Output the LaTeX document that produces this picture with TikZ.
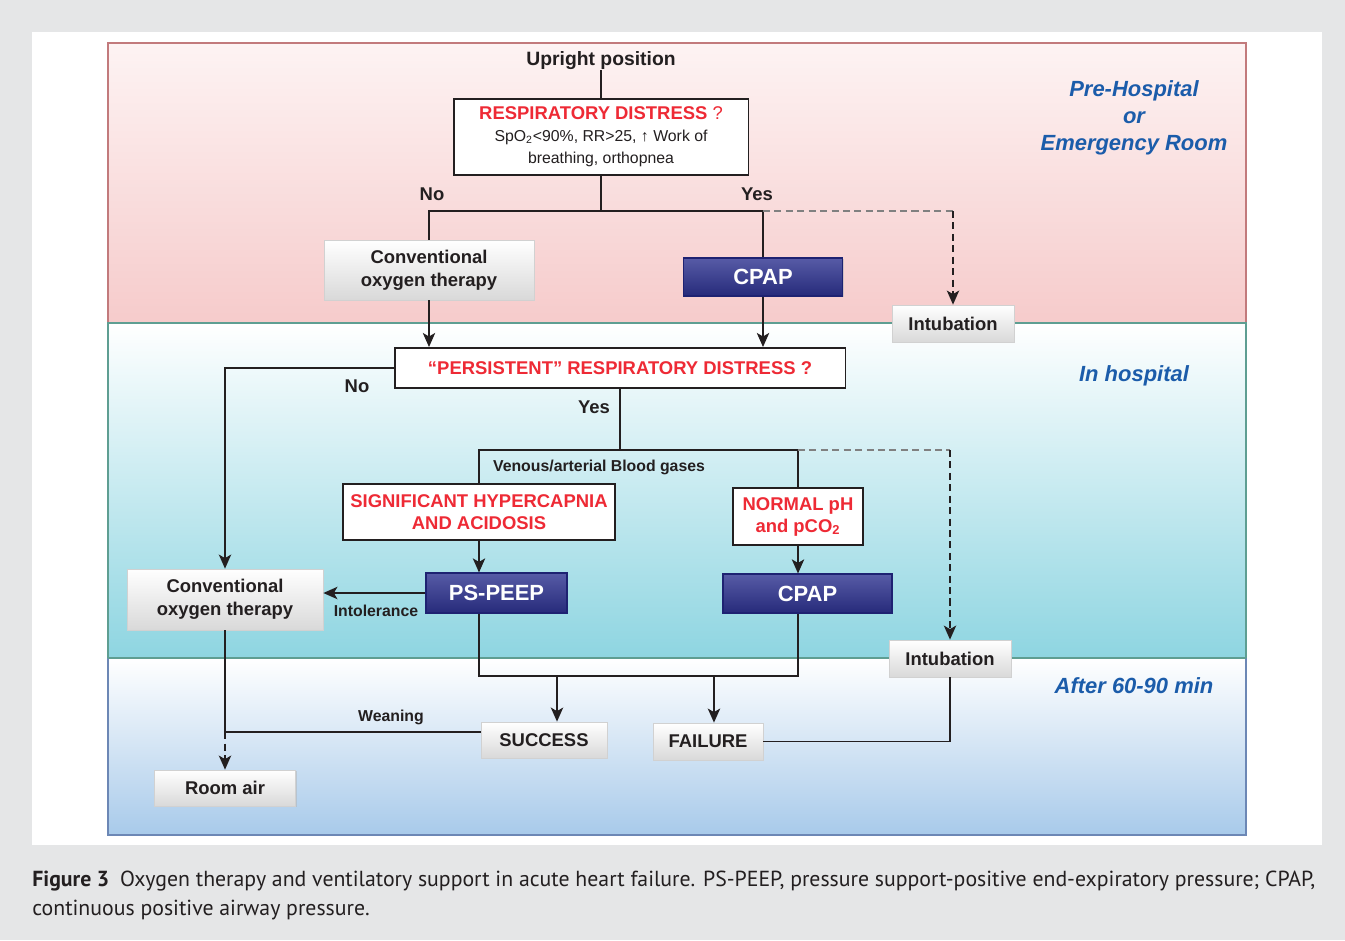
\documentclass[tikz,border=0pt]{standalone}
\usepackage{xcolor}
\usepackage{fontspec}
\setmainfont{Liberation Sans}
\newfontfamily\captionfont{PT Sans}
\usepackage{tikz}
\usetikzlibrary{arrows.meta, positioning, shadows, calc}
\definecolor{alertred}{HTML}{EE2A35}
\definecolor{zoneblue}{HTML}{1B5CAA}
\definecolor{cpapblue}{HTML}{2D3290}
\definecolor{cpapdark}{HTML}{1E2272}
\definecolor{pagegrey}{HTML}{E5E6E7}
\definecolor{pinktop}{HTML}{FDF3F3}
\definecolor{pinkbottom}{HTML}{F6CBCB}
\definecolor{pinkline}{HTML}{C27A7C}
\definecolor{cyanbottom}{HTML}{8ED5E1}
\definecolor{tealline}{HTML}{5E9E92}
\definecolor{bluebottom}{HTML}{A8CAEA}
\definecolor{blueline}{HTML}{6C87B5}
\definecolor{inkgrey}{HTML}{231F20}
\tikzstyle{question} = [rectangle, draw=inkgrey, line width=1.1pt, fill=white, align=center, inner sep=0pt, font=\fontsize{10.5}{12.5}\selectfont\bfseries, text=alertred]
\tikzstyle{greybox} = [rectangle, draw=black!18, line width=0.4pt, top color=white, bottom color=black!15, align=center, inner sep=0pt, font=\fontsize{10.5}{13}\selectfont\bfseries, text=inkgrey, drop shadow={shadow xshift=0.8pt, shadow yshift=-0.8pt, fill=black!30}]
\tikzstyle{bluebox} = [rectangle, draw=cpapdark, line width=0.6pt, top color=cpapblue!80!white, bottom color=cpapblue!85!black, inner sep=0pt, font=\fontsize{12.5}{15}\selectfont\bfseries, text=white, drop shadow={shadow xshift=0.8pt, shadow yshift=-0.8pt, fill=black!30}]
\tikzstyle{lbl} = [inner sep=0pt, font=\fontsize{10.5}{12.5}\selectfont\bfseries, text=inkgrey]
\tikzstyle{smalllbl} = [inner sep=0pt, font=\fontsize{9}{10}\selectfont\bfseries, text=inkgrey]
\tikzstyle{zone} = [inner sep=0pt, align=center, font=\fontsize{12.5}{15.3}\selectfont\bfseries\itshape, text=zoneblue]
\tikzstyle{line} = [draw=inkgrey, line width=1.1pt]
\tikzstyle{arrow} = [line, -{Stealth[length=8pt, width=7pt, inset=2pt]}]
\tikzstyle{dashline} = [draw=black!50, line width=1pt, dash pattern=on 4pt off 2.5pt]
\tikzstyle{dasharrow} = [draw=inkgrey, line width=1pt, dash pattern=on 4pt off 2.5pt, -{Stealth[length=8pt, width=7pt, inset=2pt]}]

\begin{document}
\begin{tikzpicture}[x=0.02cm, y=-0.02cm]
        % Bands
        \fill[pagegrey] (0,0) rectangle (1345,940);
        \fill[white] (32,32) rectangle (1322,845);
        \shade[top color=pinktop, bottom color=pinkbottom] (108,43) rectangle (1246,323);
        \shade[top color=white, bottom color=cyanbottom] (108,323) rectangle (1246,658);
        \shade[top color=white, bottom color=bluebottom] (108,658) rectangle (1246,835);
        \draw[pinkline, line width=1.2pt] (108,323) -- (108,43) -- (1246,43) -- (1246,323);
        \draw[tealline, line width=1.2pt] (108,658) -- (108,323) -- (1246,323) -- (1246,658);
        \draw[blueline, line width=1.2pt] (1246,658) -- (1246,835) -- (108,835) -- (108,658);
        \draw[tealline, line width=1.2pt] (108,658) -- (1246,658);

        % Nodes
        \node[lbl, font=\fontsize{11}{13}\selectfont\bfseries] (upright) at (601,61) {Upright position};
        \node[question, minimum width=5.9cm, minimum height=1.52cm] (distress) at (601,137)
            {RESPIRATORY DISTRESS {\mdseries ?}\\
             {\mdseries\color{inkgrey}\fontsize{9}{12}\selectfont SpO\textsubscript{2}<90\%, RR>25, ↑ Work of}\\
             {\mdseries\color{inkgrey}\fontsize{9}{12}\selectfont breathing, orthopnea}};
        \node[greybox, minimum width=4.2cm, minimum height=1.2cm] (convpre) at (429,270) {Conventional\\oxygen therapy};
        \node[bluebox, minimum width=3.18cm, minimum height=0.76cm] (cpappre) at (763,277) {CPAP};
        \node[greybox, minimum width=2.44cm, minimum height=0.74cm] (intubpre) at (953,323.5) {Intubation};
        \node[question, minimum width=9.02cm, minimum height=0.8cm] (persistent) at (620,368) {“PERSISTENT” RESPIRATORY DISTRESS ?};
        \node[question, minimum width=5.44cm, minimum height=1.12cm] (signif) at (479,512) {SIGNIFICANT HYPERCAPNIA\\AND ACIDOSIS};
        \node[question, minimum width=2.6cm, minimum height=1.14cm] (normal) at (798,516.5) {NORMAL pH\\and pCO\textsubscript{2}};
        \node[bluebox, minimum width=2.82cm, minimum height=0.8cm] (pspeep) at (496.5,593) {PS-PEEP};
        \node[bluebox, minimum width=3.38cm, minimum height=0.78cm] (cpaphosp) at (807.5,593.5) {CPAP};
        \node[greybox, minimum width=3.92cm, minimum height=1.22cm] (convhosp) at (225,599.5) {Conventional\\oxygen therapy};
        \node[greybox, minimum width=2.44cm, minimum height=0.74cm] (intubhosp) at (950,658.5) {Intubation};
        \node[greybox, minimum width=2.52cm, minimum height=0.72cm] (success) at (544,740) {SUCCESS};
        \node[greybox, minimum width=2.2cm, minimum height=0.74cm] (failure) at (708,741.5) {FAILURE};
        \node[greybox, minimum width=2.82cm, minimum height=0.72cm] (roomair) at (225,788) {Room air};

        \coordinate (split1) at (601,211);
        \coordinate (split2) at (620,450);
        \coordinate (mergeL) at (479,676);
        \coordinate (mergeR) at (798,676);
        \coordinate (succin) at ([xshift=7.4pt]success.north);
        \coordinate (failin) at ([xshift=3.4pt]failure.north);
        \coordinate (succout) at ([yshift=4.5pt]success.west);
        \coordinate (wean) at (convhosp.south |- succout);

        % Paths
        \draw[line] (upright) -- (distress);
        \draw[line] (distress) -- (split1);
        \draw[line] (convpre.north) |- (split1) -| (cpappre.north);
        \draw[dashline] (split1 -| cpappre.north) -- (split1 -| intubpre.north);
        \draw[dasharrow] (split1 -| intubpre.north) -- (intubpre.north);
        \draw[arrow] (convpre) -- (convpre.south |- persistent.north);
        \draw[arrow] (cpappre) -- (cpappre.south |- persistent.north);
        \draw[arrow] (persistent.west) -| (convhosp.north);
        \draw[line] (persistent) -- (split2);
        \draw[line] (signif.north) |- (split2) -| (normal.north);
        \draw[dashline] (split2 -| normal.north) -- (split2 -| intubhosp.north);
        \draw[dasharrow] (split2 -| intubhosp.north) -- (intubhosp.north);
        \draw[arrow] (signif) -- (signif.south |- pspeep.north);
        \draw[arrow] (normal) -- (normal.south |- cpaphosp.north);
        \draw[arrow] (pspeep.west) -- (pspeep.west -| convhosp.east);
        \draw[line] (signif.south |- pspeep.south) -- (mergeL) -- (mergeR) -- (normal.south |- cpaphosp.south);
        \draw[arrow] (succin |- mergeL) -- (succin);
        \draw[arrow] (failin |- mergeL) -- (failin);
        \draw[line] (intubhosp.south) |- (failure.east);
        \draw[line] (convhosp.south) -- (wean);
        \draw[line] (succout) -- (wean);
        \draw[dasharrow] (wean) -- (roomair.north);

        % Labels
        \node[lbl] at (432,194) {No};
        \node[lbl] at (757,194) {Yes};
        \node[lbl] at (357,386) {No};
        \node[lbl] at (594,407) {Yes};
        \node[smalllbl] at (599,467) {Venous/arterial Blood gases};
        \node[smalllbl] at (376,611) {Intolerance};
        \node[smalllbl] at (391,717) {Weaning};
        \node[zone] at (1134,118) {Pre-Hospital\\or\\Emergency Room};
        \node[zone] at (1134,376) {In hospital};
        \node[zone] at (1134,686) {After 60-90 min};

        % Caption
        \node[anchor=west, inner sep=0pt, font=\captionfont\fontsize{12.4}{14}\selectfont, text=inkgrey] (caption1) at (32,881)
            {\textbf{Figure 3}\hspace{0.5em}Oxygen therapy and ventilatory support in acute heart failure. PS-PEEP, pressure support-positive end-expiratory pressure; CPAP,};
        \node[anchor=west, inner sep=0pt, font=\captionfont\fontsize{12.4}{14}\selectfont, text=inkgrey] (caption2) at (32,910)
            {continuous positive airway pressure.};
\end{tikzpicture}
\end{document}
